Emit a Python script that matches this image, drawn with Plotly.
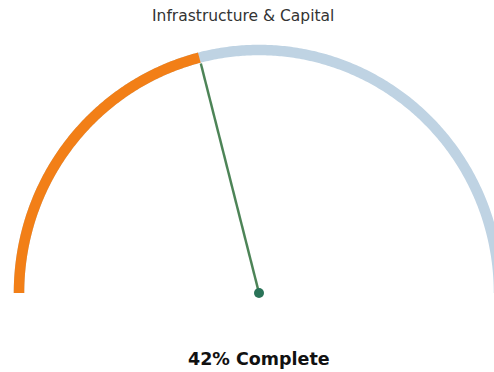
import numpy as np
import plotly.graph_objects as go

title_text = "Infrastructure & Capital"
progress_pct = [42]
total_pct = [100]
label_text = "42% Complete"

frac = progress_pct[0] / total_pct[0]
theta_all = np.linspace(np.pi, 0, 361)
theta_prog = np.linspace(np.pi, np.pi * (1 - frac), 200)
needle_ang = np.pi * (1 - frac)

fig = go.Figure()
fig.add_trace(go.Scatter(x=np.cos(theta_all), y=np.sin(theta_all), mode="lines",
                         line=dict(color="#bfd3e3", width=10.5, simplify=False), hoverinfo="skip"))
fig.add_trace(go.Scatter(x=np.cos(theta_prog), y=np.sin(theta_prog), mode="lines",
                         line=dict(color="#f27f17", width=10.5, simplify=False), hoverinfo="skip"))
fig.add_trace(go.Scatter(x=[0, 0.975 * np.cos(needle_ang)], y=[0, 0.975 * np.sin(needle_ang)],
                         mode="lines", line=dict(color="rgba(46,110,58,0.85)", width=2.5),
                         hoverinfo="skip"))
fig.add_trace(go.Scatter(x=[0], y=[0], mode="markers",
                         marker=dict(color="#2a7358", size=10), hoverinfo="skip"))

fig.add_annotation(x=0.5, y=1 - 16 / 372, xref="paper", yref="paper", text=title_text,
                   showarrow=False, font=dict(family="DejaVu Sans", size=15.5, color="#333333"),
                   xanchor="center", yanchor="middle", xshift=-4)
fig.add_annotation(x=0.0, y=-(359 - 293) / 243, xref="x", yref="y", text="<b>" + label_text + "</b>",
                   showarrow=False, font=dict(family="DejaVu Sans", size=17.5, color="#111111"),
                   xanchor="center", yanchor="middle")

fig.update_layout(
    width=494, height=372, margin=dict(l=0, r=0, t=0, b=0),
    paper_bgcolor="white", plot_bgcolor="white", showlegend=False,
    xaxis=dict(range=[-259 / 240, 235 / 240], visible=False, fixedrange=True),
    yaxis=dict(range=[-(372 - 293) / 243, 293 / 243], visible=False, fixedrange=True),
)
fig.write_html("out.html")
